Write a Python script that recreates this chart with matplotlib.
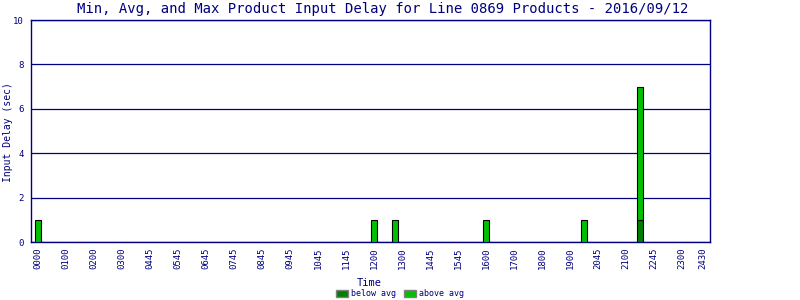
import matplotlib
matplotlib.use("Agg")
import matplotlib.pyplot as plt
from matplotlib.patches import Patch

NAVY = "#000080"
DARK = "#008000"
LIGHT = "#00C000"

# x axis labels (one slot each), last label sits a bit short of a full slot
tick_labels = ["0000", "0100", "0200", "0300", "0445", "0545", "0645", "0745",
               "0845", "0945", "1045", "1145", "1200", "1300", "1445", "1545",
               "1600", "1700", "1800", "1900", "2045", "2100", "2245", "2300", "2430"]
tick_slots = list(range(24)) + [23.75]

# bars: slot position, below-avg part, above-avg part (sec)
bar_slots = [0, 12, 12.75, 16, 19.5, 21.5]
below_avg = [0, 0, 0, 0, 0, 1]
above_avg = [1, 1, 1, 1, 1, 6]

plt.rcParams["font.family"] = "DejaVu Sans Mono"

fig = plt.figure(figsize=(8, 3), dpi=100)
ax = fig.add_axes([31 / 800, 58 / 300, 679 / 800, 222 / 300])

w = 0.18
ax.bar(bar_slots, below_avg, width=w, color=DARK, edgecolor="black", linewidth=0.8, zorder=3)
ax.bar(bar_slots, above_avg, width=w, bottom=below_avg, color=LIGHT,
       edgecolor="black", linewidth=0.8, zorder=3)

ax.set_xlim(-0.25, 24.0)
ax.set_ylim(0, 10)
ax.set_yticks([0, 2, 4, 6, 8, 10])
ax.set_xticks(tick_slots)
ax.set_xticklabels(tick_labels, rotation=90)
ax.tick_params(axis="both", length=0, colors=NAVY, labelsize=6.5)
ax.tick_params(axis="x", pad=4)
ax.tick_params(axis="y", pad=5)
ax.yaxis.grid(True, color=NAVY, linewidth=0.9)
ax.set_axisbelow(True)
for s in ax.spines.values():
    s.set_color(NAVY)
    s.set_linewidth(1.0)

ax.set_ylabel("Input Delay (sec)", color=NAVY, fontsize=7, va="center")
ax.yaxis.set_label_coords(-23 / 679, (242 - 132) / 222)
ax.set_xlabel("Time", color=NAVY, fontsize=7.5, labelpad=2)
ax.xaxis.set_label_coords((369 - 31) / 679, -0.16)

fig.text(383 / 800, 1 - 9 / 300, "Min, Avg, and Max Product Input Delay for Line 0869 Products - 2016/09/12",
         ha="center", va="center", color=NAVY, fontsize=10)

handles = [Patch(facecolor=DARK, edgecolor="gray", label="below avg"),
           Patch(facecolor=LIGHT, edgecolor="gray", label="above avg")]
leg = fig.legend(handles=handles, loc="center", bbox_to_anchor=(400 / 800, 1 - 294 / 300),
                 ncol=2, frameon=False, fontsize=6, handlelength=1.4, handleheight=0.9,
                 handletextpad=0.4, columnspacing=1.0, borderpad=0)
for t in leg.get_texts():
    t.set_color(NAVY)

fig.savefig("out.png", dpi=100)
